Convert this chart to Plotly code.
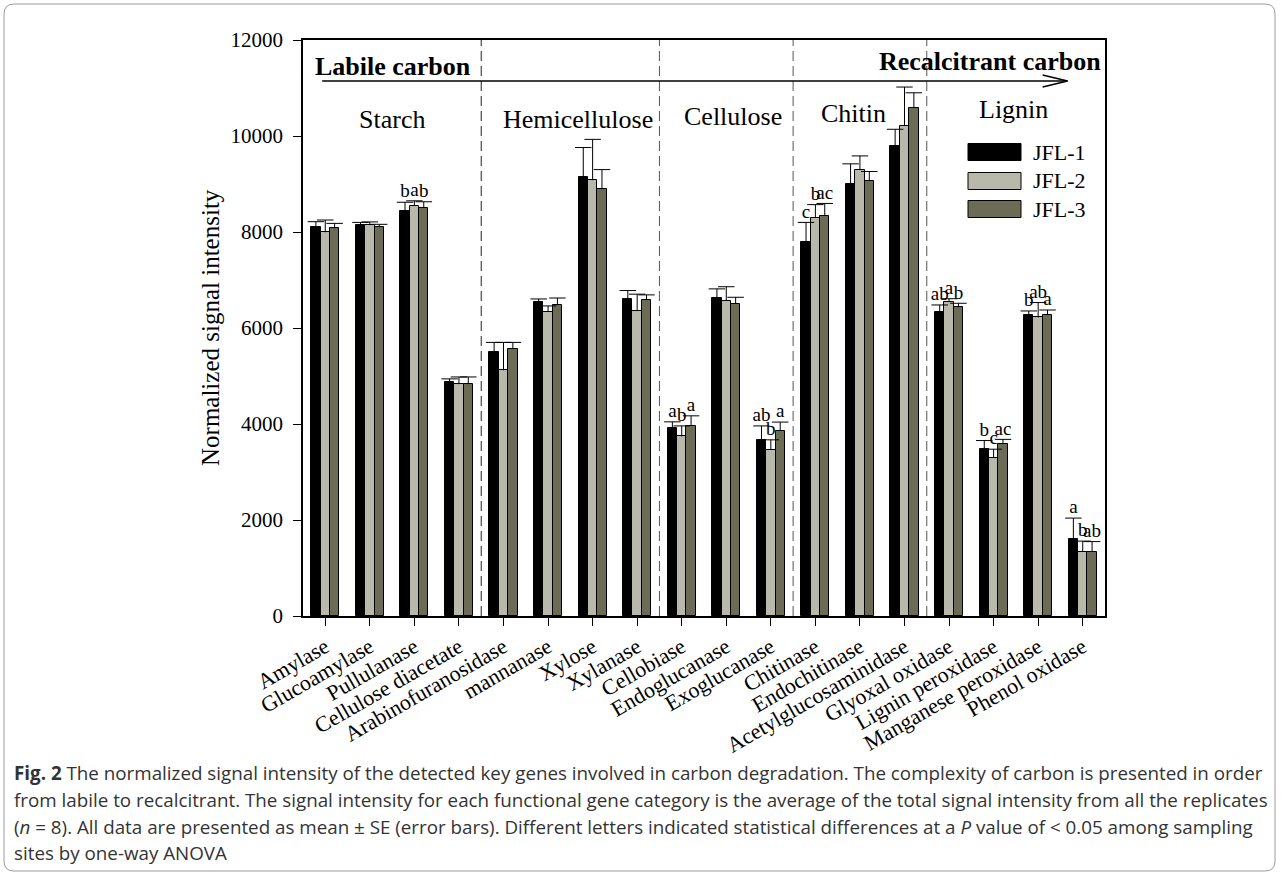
import plotly.graph_objects as go

# ---- data -------------------------------------------------------------
categories = ["Amylase", "Glucoamylase", "Pullulanase", "Cellulose diacetate",
              "Arabinofuranosidase", "mannanase", "Xylose", "Xylanase",
              "Cellobiase", "Endoglucanase", "Exoglucanase", "Chitinase",
              "Endochitinase", "Acetylglucosaminidase", "Glyoxal oxidase",
              "Lignin peroxidase", "Manganese peroxidase", "Phenol oxidase"]

series_names = ["JFL-1", "JFL-2", "JFL-3"]

jfl1 = [8110, 8150, 8440, 4870, 5510, 6550, 9140, 6600, 3920, 6620, 3670, 7790,
        9000, 9790, 6340, 3480, 6270, 1600]
jfl1_se = [105, 50, 180, 70, 190, 55, 620, 180, 125, 195, 290, 410,
           420, 350, 140, 175, 85, 440]
jfl2 = [7995, 8150, 8540, 4830, 5120, 6340, 9080, 6350, 3740, 6570, 3460, 8300,
        9300, 10210, 6550, 3290, 6220, 1340]
jfl2_se = [255, 60, 110, 150, 580, 120, 850, 355, 220, 290, 210, 270,
           285, 810, 60, 185, 310, 220]
jfl3 = [8075, 8110, 8510, 4830, 5560, 6480, 8890, 6580, 3960, 6500, 3860, 8340,
        9070, 10580, 6430, 3580, 6270, 1340]
jfl3_se = [105, 50, 120, 150, 140, 145, 410, 110, 210, 140, 180, 255,
           190, 320, 85, 100, 105, 210]

letters1 = ["", "", "b", "", "", "", "", "", "a", "", "ab", "c", "", "", "ab", "b", "b", "a"]
letters2 = ["", "", "a", "", "", "", "", "", "b", "", "b", "b", "", "", "a", "c", "ab", "b"]
letters3 = ["", "", "b", "", "", "", "", "", "a", "", "a", "ac", "", "", "b", "ac", "a", "ab"]

groups = ["Starch", "Hemicellulose", "Cellulose", "Chitin", "Lignin"]
group_label_x = [1.5, 5.68, 9.16, 11.86, 15.45]
group_label_y = [10354, 10354, 10396, 10479, 10542]
group_bounds = [3.5, 7.5, 10.5, 13.5]

y_ticks = [0, 2000, 4000, 6000, 8000, 10000, 12000]

colors = ["#000000", "#b9b9ab", "#6c6c56"]

# ---- geometry ---------------------------------------------------------
W, H = 1281, 874
L, R, T, B = 303, 1105, 40, 616
BAR_W = 0.21
CAP_HALF = 0.185
SERIF = "Liberation Serif, Times New Roman, serif"


def px(x):
    return (x - L) / (R - L)


def py(y):
    return (B - y) / (B - T)


fig = go.Figure()

values = [jfl1, jfl2, jfl3]
errors = [jfl1_se, jfl2_se, jfl3_se]
letters = [letters1, letters2, letters3]

for k in range(3):
    xs = [i + (k - 1) * BAR_W for i in range(len(categories))]
    fig.add_trace(go.Bar(
        x=xs, y=values[k], width=BAR_W, name=series_names[k],
        marker=dict(color=colors[k], line=dict(color="#000000", width=1)),
        showlegend=False,
    ))

# upward-only error whiskers with caps
for k in range(3):
    ex, ey = [], []
    for i, (v, e) in enumerate(zip(values[k], errors[k])):
        xc = i + (k - 1) * BAR_W
        ex += [xc, xc, None, xc - CAP_HALF, xc + CAP_HALF, None]
        ey += [v, v + e, None, v + e, v + e, None]
    fig.add_trace(go.Scatter(x=ex, y=ey, mode="lines",
                             line=dict(color="#000000", width=1),
                             showlegend=False, hoverinfo="skip"))

# significance letters above the whiskers
for k in range(3):
    lx, ly, lt = [], [], []
    for i, s in enumerate(letters[k]):
        if s:
            lx.append(i + (k - 1) * BAR_W)
            ly.append(values[k][i] + errors[k][i])
            lt.append(s)
    fig.add_trace(go.Scatter(x=lx, y=ly, text=lt, mode="text",
                             textposition="top center",
                             textfont=dict(family=SERIF, size=19, color="#000000"),
                             showlegend=False, hoverinfo="skip"))

shapes = []
for n, xb in enumerate(group_bounds):
    shapes.append(dict(type="line", xref="x", yref="paper", x0=xb, x1=xb,
                       y0=0, y1=1,
                       line=dict(color="#222222" if n == 0 else "#555555",
                                 width=1, dash="10px,5px")))

# labile -> recalcitrant arrow
ARROW_Y = 11146
shapes.append(dict(type="line", xref="x", yref="y", x0=-0.07, x1=16.66,
                   y0=ARROW_Y, y1=ARROW_Y, line=dict(color="#000000", width=1.5)))
shapes.append(dict(type="path", xref="x", yref="y",
                   path=f"M 16.10 {ARROW_Y + 125} L 16.66 {ARROW_Y} L 16.10 {ARROW_Y - 125}",
                   line=dict(color="#000000", width=1.5)))

# legend swatches
legend_y = [152, 181, 209]
for k in range(3):
    shapes.append(dict(type="rect", xref="paper", yref="paper",
                       x0=px(968), x1=px(1021), y0=py(legend_y[k] + 8.5), y1=py(legend_y[k] - 8.5),
                       fillcolor=colors[k], line=dict(color="#000000", width=1)))

# rounded border around the whole figure
bx0, bx1, by0, by1, rr = 4, 1275, 4, 871, 10
border = (f"M {px(bx0 + rr)} {py(by0)} L {px(bx1 - rr)} {py(by0)} "
          f"Q {px(bx1)} {py(by0)} {px(bx1)} {py(by0 + rr)} "
          f"L {px(bx1)} {py(by1 - rr)} Q {px(bx1)} {py(by1)} {px(bx1 - rr)} {py(by1)} "
          f"L {px(bx0 + rr)} {py(by1)} Q {px(bx0)} {py(by1)} {px(bx0)} {py(by1 - rr)} "
          f"L {px(bx0)} {py(by0 + rr)} Q {px(bx0)} {py(by0)} {px(bx0 + rr)} {py(by0)} Z")
shapes.append(dict(type="path", xref="paper", yref="paper", path=border,
                   line=dict(color="#9a9a9a", width=1)))

annotations = []
for g, gx, gy in zip(groups, group_label_x, group_label_y):
    annotations.append(dict(x=gx, y=gy, xref="x", yref="y", text=g, showarrow=False,
                            xanchor="center", yanchor="middle",
                            font=dict(family=SERIF, size=26, color="#000000")))

annotations.append(dict(x=1.53, y=11458, xref="x", yref="y", text="<b>Labile carbon</b>",
                        xanchor="center", yanchor="middle",
                        showarrow=False, font=dict(family=SERIF, size=26, color="#000000")))
annotations.append(dict(x=17.45, y=11542, xref="x", yref="y", xanchor="right",
                        yanchor="middle",
                        text="<b>Recalcitrant carbon</b>", showarrow=False,
                        font=dict(family=SERIF, size=26, color="#000000")))

for k in range(3):
    annotations.append(dict(x=px(1031), y=py(legend_y[k]), xref="paper", yref="paper",
                            xanchor="left", yanchor="middle", text=series_names[k],
                            showarrow=False,
                            font=dict(family=SERIF, size=22, color="#000000")))

annotations.append(dict(x=px(210), y=py(328), xref="paper", yref="paper", textangle=-90,
                        xanchor="center", yanchor="middle",
                        text="Normalized signal intensity", showarrow=False,
                        font=dict(family=SERIF, size=25, color="#000000")))

CAP_FONT = dict(family="Open Sans, sans-serif", size=18.8, color="#333333")
caption_lines = [
    "<b>Fig. 2</b> The normalized signal intensity of the detected key genes involved in carbon degradation. The complexity of carbon is presented in order",
    "from labile to recalcitrant. The signal intensity for each functional gene category is the average of the total signal intensity from all the replicates",
    "(<i>n</i> = 8). All data are presented as mean ± SE (error bars). Different letters indicated statistical differences at a <i>P</i> value of < 0.05 among sampling",
    "sites by one-way ANOVA",
]
caption_y = [773, 800, 827, 853]
for line, yy in zip(caption_lines, caption_y):
    annotations.append(dict(x=px(12), y=py(yy), xref="paper", yref="paper", xanchor="left",
                            yanchor="middle", text=line, showarrow=False, font=CAP_FONT))

fig.update_layout(
    width=W, height=H,
    margin=dict(l=L, r=W - R, t=T, b=H - B, pad=0),
    paper_bgcolor="#ffffff", plot_bgcolor="#ffffff",
    barmode="overlay", bargap=0,
    shapes=shapes, annotations=annotations,
    xaxis=dict(range=[-0.5, 17.5], tickmode="array", tickvals=list(range(len(categories))),
               ticktext=categories, tickangle=-30, ticks="outside", ticklen=8,
               tickcolor="#000000", tickwidth=1.2, showline=True, linecolor="#000000",
               linewidth=1.5, mirror=True, showgrid=False, zeroline=False,
               tickfont=dict(family=SERIF, size=22, color="#000000")),
    yaxis=dict(range=[0, 12000], tickmode="array", tickvals=y_ticks,
               ticktext=[str(v) for v in y_ticks], ticks="outside", ticklen=8,
               ticklabelstandoff=6,
               tickcolor="#000000", tickwidth=1.2, showline=True, linecolor="#000000",
               linewidth=1.5, mirror=True, showgrid=False, zeroline=False,
               tickfont=dict(family=SERIF, size=21, color="#000000")),
)

fig.write_html("out.html")
